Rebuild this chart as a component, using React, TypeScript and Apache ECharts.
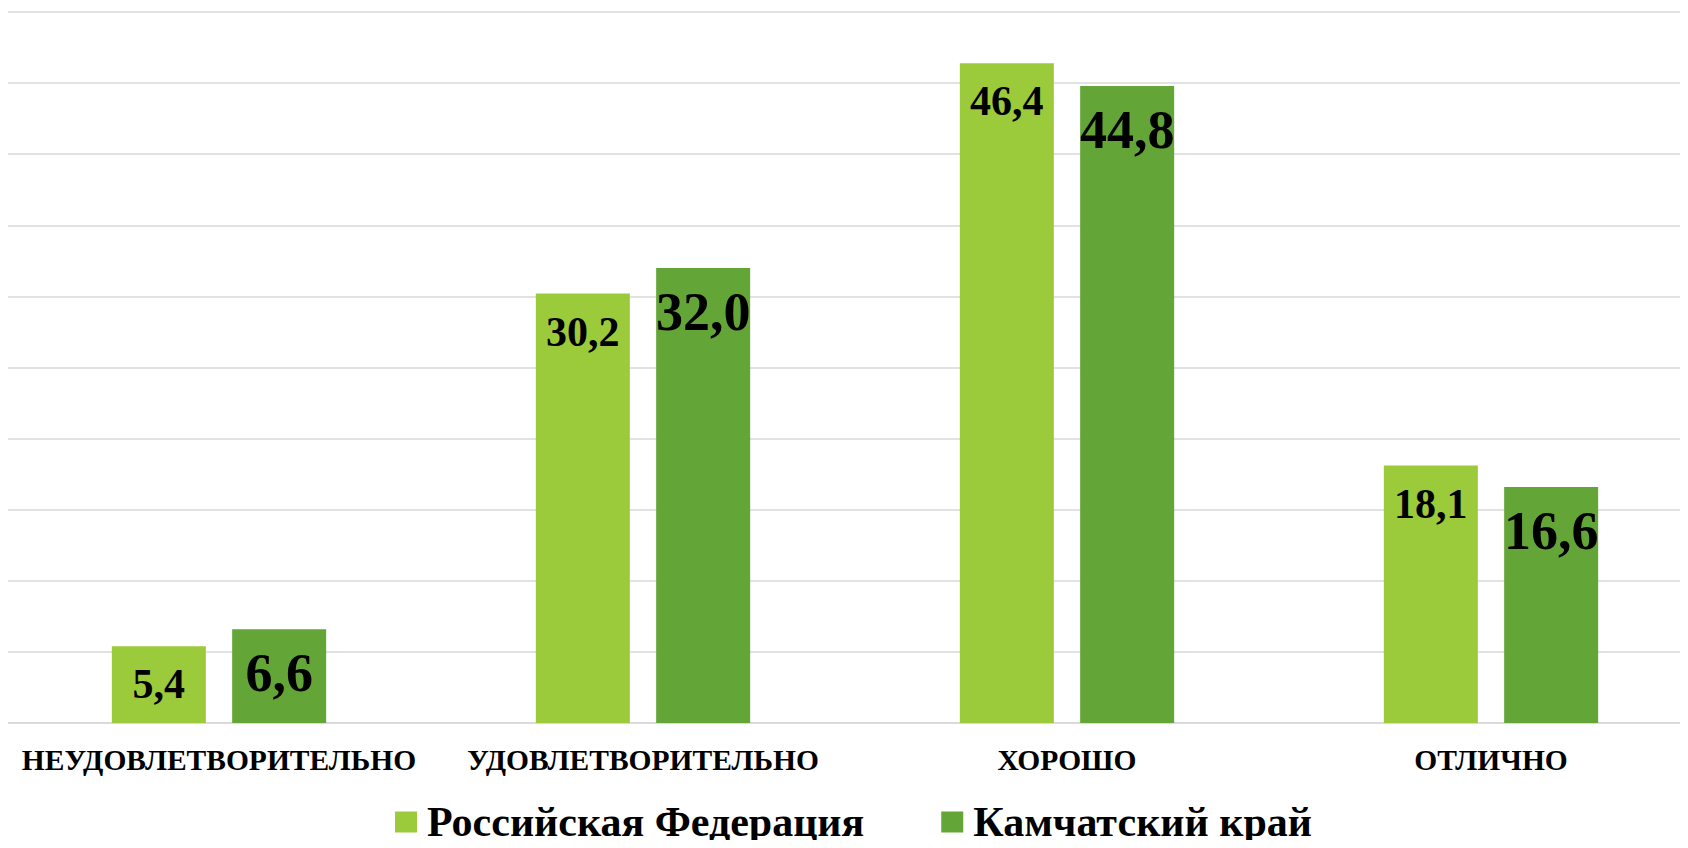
import React, { useEffect, useRef } from "react";
import * as echarts from "echarts";

const categories = ["НЕУДОВЛЕТВОРИТЕЛЬНО", "УДОВЛЕТВОРИТЕЛЬНО", "ХОРОШО", "ОТЛИЧНО"];
const seriesNames = ["Российская Федерация", "Камчатский край"];
const rfValues = [5.4, 30.2, 46.4, 18.1];
const kamValues = [6.6, 32.0, 44.8, 16.6];
const colors = ["#9BCB3B", "#63A537"];

const FONT = "'Liberation Serif', 'Times New Roman', serif";

const fmt = (v: number) => v.toFixed(1).replace(".", ",");

export default function App() {
  const ref = useRef<HTMLDivElement>(null);
  useEffect(() => {
    if (!ref.current) return;
    const chart = echarts.init(ref.current, null, { renderer: "svg" });
    chart.setOption({
      animation: false,
      backgroundColor: "#ffffff",
      grid: { left: 7, top: 12, width: 1696, bottom: 125, containLabel: false },
      legend: {
        data: seriesNames,
        left: 390,
        top: 796,
        itemWidth: 22,
        itemHeight: 21,
        itemGap: 77,
        icon: "rect",
        textStyle: {
          fontFamily: FONT,
          fontWeight: "bold",
          fontSize: 42,
          color: "#000",
          padding: [0, 0, 0, 5],
        },
      },
      xAxis: {
        type: "category",
        data: categories,
        axisLine: { show: true, lineStyle: { color: "#d9d9d9", width: 1.5 } },
        axisTick: { show: false },
        axisLabel: {
          interval: 0,
          margin: 22,
          fontFamily: FONT,
          fontWeight: "bold",
          fontSize: 29.5,
          color: "#000",
        },
      },
      yAxis: {
        type: "value",
        min: 0,
        max: 50,
        interval: 5,
        axisLabel: { show: false },
        axisLine: { show: false },
        axisTick: { show: false },
        splitLine: { lineStyle: { color: "#d9d9d9", width: 1.5 } },
      },
      series: [
        {
          name: seriesNames[0],
          type: "bar",
          data: rfValues,
          barWidth: 94,
          barGap: "28%",
          itemStyle: { color: colors[0] },
          label: {
            show: true,
            position: ["50%", 38],
            align: "center",
            verticalAlign: "middle",
            formatter: (p: any) => fmt(p.value),
            fontFamily: FONT,
            fontWeight: "bold",
            fontSize: 42,
            color: "#000",
          },
        },
        {
          name: seriesNames[1],
          type: "bar",
          data: kamValues,
          barWidth: 94,
          barGap: "28%",
          itemStyle: { color: colors[1] },
          label: {
            show: true,
            position: ["50%", 44],
            align: "center",
            verticalAlign: "middle",
            formatter: (p: any) => fmt(p.value),
            fontFamily: FONT,
            fontWeight: "bold",
            fontSize: 54,
            color: "#000",
          },
        },
      ],
    });
    return () => chart.dispose();
  }, []);
  return (
    <div style={{ width: 1688, height: 848, margin: -8, overflow: "hidden" }}>
      <div ref={ref} style={{ width: 1710, height: 848 }} />
    </div>
  );
}
